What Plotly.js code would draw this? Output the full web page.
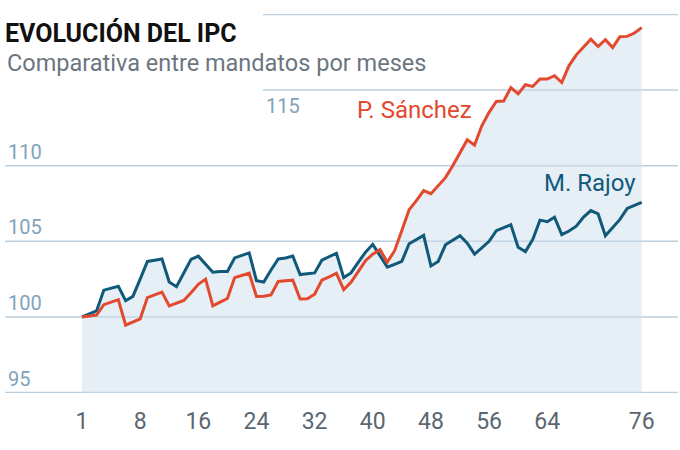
<!DOCTYPE html>
<html><head><meta charset="utf-8">
<script src="https://cdn.plot.ly/plotly-3.0.1.min.js"></script>
<style>html,body{margin:0;padding:0;background:#fff}#chart{width:680px;height:450px}</style>
</head><body><div id="chart"></div>
<script>
// IPC index (base 100 = first month of each mandate), monthly
const rajoy = [100.00,100.20,100.40,101.77,101.90,102.02,101.07,101.36,102.50,103.67,
103.75,103.83,102.31,102.00,102.90,103.81,104.02,103.50,102.96,103.00,
103.01,103.90,104.07,104.23,102.40,102.31,103.10,103.83,103.90,104.03,
102.80,102.85,102.91,103.75,103.98,104.21,102.60,102.91,103.60,104.28,
104.80,104.05,103.29,103.48,103.67,104.84,105.10,105.39,103.37,103.67,
104.77,105.07,105.37,104.88,104.15,104.56,105.00,105.70,105.90,106.10,
104.60,104.32,105.11,106.40,106.30,106.60,105.44,105.68,106.00,106.60,
107.03,106.81,105.37,105.90,106.45,107.17,107.38,107.58];
const sanchez = [100.00,100.06,100.12,100.81,100.98,101.14,99.46,99.66,99.87,101.28,
101.46,101.64,100.73,100.91,101.09,101.60,102.16,102.50,100.73,100.98,
101.22,102.60,102.75,102.89,101.35,101.37,101.45,102.35,102.39,102.43,
101.18,101.20,101.50,102.43,102.65,102.88,101.80,102.29,103.00,103.72,
104.15,104.45,103.62,104.38,105.72,107.08,107.69,108.35,108.15,108.66,
109.21,110.00,110.89,111.72,111.36,112.64,113.53,114.25,114.27,115.16,
114.75,115.35,115.24,115.73,115.73,115.95,115.50,116.62,117.33,117.83,
118.37,117.88,118.33,117.81,118.53,118.55,118.77,119.13];
const monthIndex = rajoy.map((_, i) => i);
const xTickPos = [0, 8, 16, 24, 32, 40, 48, 56, 64, 77];
const xTickLabels = ['1','8','16','24','32','40','48','56','64','76'];
const yGrid = [95, 100, 105, 110, 115, 120];
const yTickLabels = ['95','100','105','110','',''];
const titleText = 'EVOLUCIÓN DEL IPC';
const subtitleText = 'Comparativa entre mandatos por meses';
const nameRajoy = 'M. Rajoy';
const nameSanchez = 'P. Sánchez';

const envelope = rajoy.map((v, i) => Math.max(v, sanchez[i]));
const FONT = 'Roboto, "Liberation Sans", sans-serif';
const RED = '#e2492d', TEAL = '#11597a', GRID = '#bccfdd', YLAB = '#80a3bb';
const SHORT_START = 0.3833; // grid lines above the title block start further right

const traces = [
  {x: monthIndex, y: envelope, mode: 'lines', line: {width: 0}, fill: 'tozeroy',
   fillcolor: 'rgba(206,221,237,0.5)', hoverinfo: 'skip', showlegend: false},
  {x: monthIndex, y: rajoy, mode: 'lines', name: nameRajoy,
   line: {color: TEAL, width: 3}, showlegend: false},
  {x: monthIndex, y: sanchez, mode: 'lines', name: nameSanchez,
   line: {color: RED, width: 3}, showlegend: false}
];

const gridShapes = yGrid.map(v => ({
  type: 'line', xref: 'paper', yref: 'y', x0: v > 110 ? SHORT_START : 0, x1: 1, y0: v, y1: v,
  line: {color: GRID, width: 1.5}, layer: 'between'
}));

const layout = {
  width: 680, height: 450,
  margin: {l: 5, r: 2, t: 14, b: 56.7},
  paper_bgcolor: '#fff', plot_bgcolor: 'rgba(0,0,0,0)',
  font: {family: FONT},
  title: {text: '<b>' + titleText + '</b>', font: {family: FONT, size: 25, color: '#111'},
          x: 5/680, xref: 'container', xanchor: 'left', y: 1 - 33/450, yref: 'container', yanchor: 'middle'},
  xaxis: {range: [-10.593, 81.99], showgrid: false, zeroline: false, showline: false,
          tickvals: xTickPos, ticktext: xTickLabels, ticks: '', ticklabelstandoff: 12,
          tickfont: {family: FONT, size: 23, color: '#5b6670'}, fixedrange: true},
  yaxis: {range: [94.97, 120.03], tickvals: yGrid, ticktext: yTickLabels, showgrid: false,
          zeroline: false, showline: false, ticks: '',
          ticklabelposition: 'inside top', tickfont: {family: FONT, size: 20, color: YLAB}, fixedrange: true},
  shapes: gridShapes,
  annotations: [
    {text: subtitleText, xref: 'paper', yref: 'paper', x: 0, y: 0.871, xanchor: 'left', yanchor: 'middle',
     showarrow: false, font: {family: FONT, size: 23.5, color: '#6b7680'}},
    {text: '115', xref: 'paper', yref: 'y', x: 0.3848, y: 115, xanchor: 'left', yanchor: 'top', yshift: -2,
     showarrow: false, font: {family: FONT, size: 20, color: YLAB}},
    {text: nameSanchez, xref: 'x', yref: 'y', x: 45.8, y: 113.67, xanchor: 'center', yanchor: 'middle',
     showarrow: false, font: {family: FONT, size: 24, color: RED}},
    {text: nameRajoy, xref: 'x', yref: 'y', x: 69.9, y: 108.85, xanchor: 'center', yanchor: 'middle',
     showarrow: false, font: {family: FONT, size: 24, color: TEAL}}
  ]
};
Plotly.newPlot('chart', traces, layout, {displayModeBar: false, staticPlot: true});
</script></body></html>
